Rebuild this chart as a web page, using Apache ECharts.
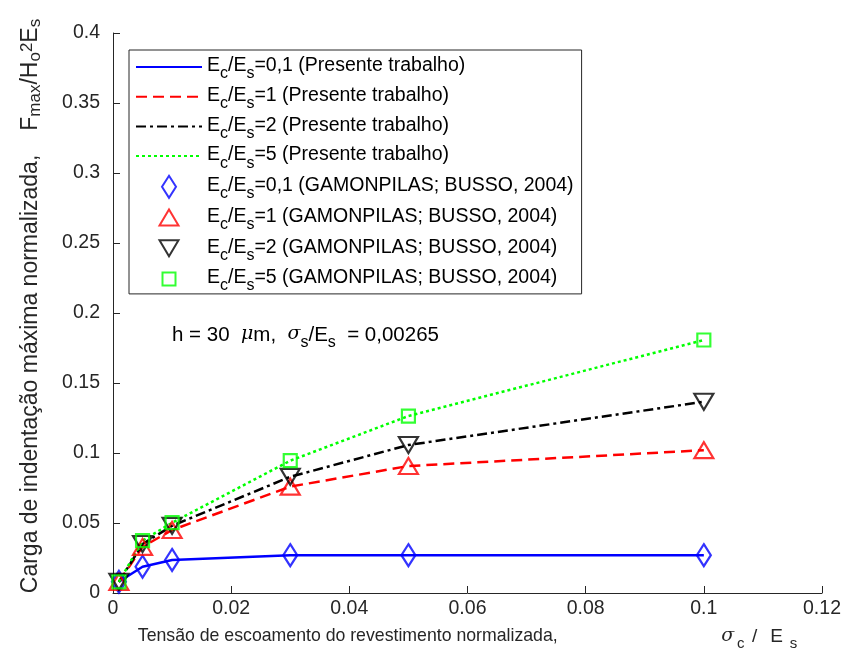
<!DOCTYPE html>
<html>
<head>
<meta charset="utf-8">
<script src="https://cdn.jsdelivr.net/npm/echarts@6/dist/echarts.min.js"></script>
<style>
html,body{margin:0;padding:0;background:#fff;}
#chart{width:846px;height:657px;}
</style>
</head>
<body>
<div id="chart"></div>
<script>
// ---- data ----
const xValues = [0.001, 0.005, 0.01, 0.03, 0.05, 0.1];
const ratioLabels = ['0,1', '1', '2', '5'];
const present01 = [0.008, 0.0188, 0.0236, 0.027, 0.027, 0.027];
const present1  = [0.008, 0.033, 0.045, 0.076, 0.0907, 0.102];
const present2  = [0.008, 0.035, 0.048, 0.083, 0.1057, 0.1366];
const present5  = [0.008, 0.0374, 0.0502, 0.0945, 0.1264, 0.1807];
const gamon01 = [0.008, 0.0188, 0.0236, 0.027, 0.027, 0.027];
const gamon1  = [0.008, 0.033, 0.045, 0.076, 0.0907, 0.102];
const gamon2  = [0.008, 0.035, 0.048, 0.083, 0.1057, 0.1366];
const gamon5  = [0.008, 0.0374, 0.0502, 0.0945, 0.1264, 0.1807];
const presentSuffix = ' (Presente trabalho)';
const refSuffix = ' (GAMONPILAS; BUSSO, 2004)';

const colors = ['#0000ff', '#ff0000', '#000000', '#00ff00'];
const lineTypes = ['solid', [11, 6], [10, 4, 3, 4], [3, 3]];
const presentData = [present01, present1, present2, present5];
const gamonData = [gamon01, gamon1, gamon2, gamon5];
// marker shapes drawn inside a square 22x22 box
const symbols = [
  'path://M0,0M11,0L18,11L11,22L4,11ZM22,22',
  'path://M0,0M1.5,19L11,3L20.5,19ZM22,22',
  'path://M0,0M1.5,3L20.5,3L11,19ZM22,22',
  'path://M0,0M4.5,4.5L17.5,4.5L17.5,17.5L4.5,17.5ZM22,22'
];

const FONT = 'Liberation Sans, Arial, Helvetica, sans-serif';

function pairs(ys) { return xValues.map((x, i) => [x, ys[i]]); }

const series = [];
const legendData = [];
ratioLabels.forEach((r, i) => {
  const name = 'Ec/Es=' + r + presentSuffix;
  legendData.push({ name: name, itemStyle: { opacity: 0, color: 'rgba(0,0,0,0)', borderWidth: 0 } });
  series.push({
    name: name, type: 'line', data: pairs(presentData[i]),
    symbol: 'circle', showSymbol: false, z: 2,
    lineStyle: { color: colors[i], width: 2.5, type: lineTypes[i] },
    itemStyle: { color: colors[i] }
  });
});
ratioLabels.forEach((r, i) => {
  const name = 'Ec/Es=' + r + refSuffix;
  legendData.push({ name: name });
  series.push({
    name: name, type: 'scatter', data: pairs(gamonData[i]),
    symbol: symbols[i], symbolSize: 22, symbolKeepAspect: true, z: 3,
    itemStyle: { color: 'rgba(255,255,255,0)', borderColor: colors[i], borderWidth: 2.2 }
  });
});

const legendRich = {
  n: { fontSize: 19.5, lineHeight: 22, verticalAlign: 'top', fontFamily: FONT, color: '#000' },
  s: { fontSize: 16, lineHeight: 16, verticalAlign: 'top', padding: [10, 0, 0, 0], fontFamily: FONT, color: '#000' }
};

const chart = echarts.init(document.getElementById('chart'), null, { renderer: 'canvas' });
chart.setOption({
  animation: false,
  backgroundColor: '#ffffff',
  grid: { left: 113, right: 24, top: 33, bottom: 64, containLabel: false },
  xAxis: {
    type: 'value', min: 0, max: 0.12, interval: 0.02,
    axisLine: { lineStyle: { color: '#262626', width: 1 } },
    axisTick: { inside: true, length: 7, lineStyle: { color: '#262626' } },
    axisLabel: { margin: 6, fontSize: 19.5, color: '#262626', fontFamily: FONT },
    splitLine: { show: false },
    name: '{n|Tensão de escoamento do revestimento normalizada,}{g| }{i|σ}{s|c}{sl|/}{e|E}{s2|s}',
    nameLocation: 'middle', nameGap: 34,
    nameTextStyle: {
      rich: {
        n: { fontSize: 17.7, lineHeight: 20, verticalAlign: 'top', fontFamily: FONT, color: '#262626' },
        sl: { fontSize: 19, lineHeight: 20, verticalAlign: 'top', fontFamily: FONT, color: '#262626', width: 18 },
        e: { fontSize: 19, lineHeight: 20, verticalAlign: 'top', fontFamily: FONT, color: '#262626', width: 26 },
        i: { fontSize: 19, lineHeight: 20, verticalAlign: 'top', fontFamily: 'DejaVu Serif, serif', fontStyle: 'italic', color: '#262626', width: 16 },
        g: { width: 162, fontSize: 18, lineHeight: 20, verticalAlign: 'top' },
        s: { fontSize: 15, lineHeight: 15, verticalAlign: 'top', padding: [9, 0, 0, 0], fontFamily: FONT, color: '#262626', width: 10 },
        s2: { fontSize: 15, lineHeight: 15, verticalAlign: 'top', padding: [9, 0, 0, 0], fontFamily: FONT, color: '#262626' }
      }
    }
  },
  yAxis: {
    type: 'value', min: 0, max: 0.4, interval: 0.05,
    axisLine: { show: true, lineStyle: { color: '#262626', width: 1 } },
    axisTick: { show: true, inside: true, length: 7, lineStyle: { color: '#262626' } },
    axisLabel: { margin: 13, fontSize: 19.5, color: '#262626', fontFamily: FONT },
    splitLine: { show: false },
    name: '{n|Carga de indentação máxima normalizada,}{g| }{n|F}{s|max}{n|/H}{s|o}{p|2}{n|E}{s|s}',
    nameLocation: 'middle', nameRotate: 90, nameGap: 68,
    nameTextStyle: {
      padding: [0, 0, 0, 14],
      rich: {
        n: { fontSize: 23, lineHeight: 26, verticalAlign: 'top', fontFamily: FONT, color: '#262626' },
        g: { width: 24, fontSize: 23, lineHeight: 26, verticalAlign: 'top' },
        s: { fontSize: 17, lineHeight: 18, verticalAlign: 'top', padding: [8, 0, 0, 0], fontFamily: FONT, color: '#262626' },
        p: { fontSize: 17, lineHeight: 18, verticalAlign: 'top', fontFamily: FONT, color: '#262626' }
      }
    }
  },
  legend: {
    orient: 'vertical', left: 129, top: 50,
    padding: [6, 8, 0, 6],
    itemWidth: 66, itemHeight: 22, itemGap: 3.7,
    symbolKeepAspect: true,
    borderColor: '#262626', borderWidth: 1, backgroundColor: '#fff',
    data: legendData,
    formatter: function (name) {
      const rest = name.replace('Ec/Es', '');
      return '{n|E}{s|c}{n|/E}{s|s}{n|' + rest + '}';
    },
    textStyle: { rich: legendRich }
  },
  graphic: [{
    type: 'text', left: 172, top: 325, z: 10,
    style: {
      text: '{n|h = 30  }{i|μ}{n|m,  }{i|σ}{s|s}{n|/E}{s|s}{n|  = 0,00265}',
      rich: {
        n: { fontSize: 20.5, lineHeight: 22, verticalAlign: 'top', fontFamily: FONT, color: '#000' },
        i: { fontSize: 19, lineHeight: 22, verticalAlign: 'top', fontFamily: 'DejaVu Serif, serif', fontStyle: 'italic', color: '#000' },
        s: { fontSize: 16, lineHeight: 16, verticalAlign: 'top', padding: [10, 0, 0, 0], fontFamily: FONT, color: '#000' }
      }
    }
  }],
  series: series
});
</script>
</body>
</html>
